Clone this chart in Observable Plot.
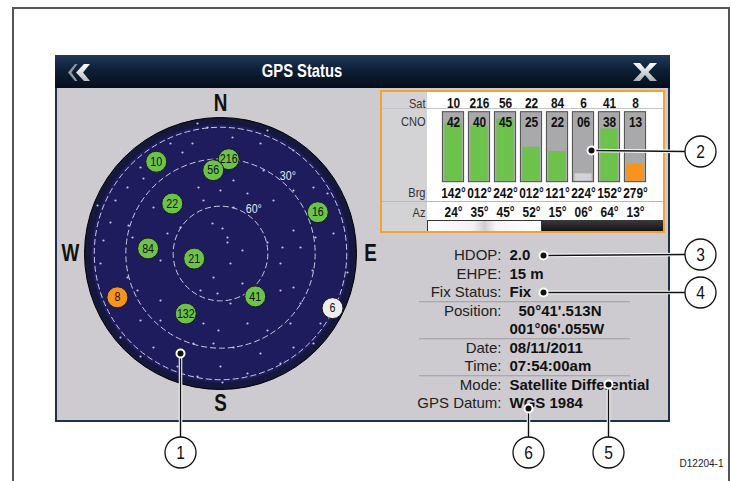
<!DOCTYPE html>
<html><head><meta charset="utf-8">
<script src="https://cdn.jsdelivr.net/npm/d3@7"></script>
<script src="https://cdn.jsdelivr.net/npm/@observablehq/plot@0.6"></script>
<style>
body{margin:0;background:#fff}
#root{position:relative;width:731px;height:481px;overflow:hidden;background:#fff;font-family:"Liberation Sans",Arial,sans-serif}
.abs{position:absolute}
.pw{position:absolute}
.pw svg{display:block;overflow:visible;background:transparent}
</style></head><body>
<div id="root">
  <div class="abs" style="left:12px;top:7px;width:714px;height:480px;border:2px solid #555;border-bottom:none"></div>
  <div class="abs" style="left:55px;top:55px;width:615px;height:33px;background:linear-gradient(to bottom,#22395a 0%,#0e1f36 45%,#050d1a 100%)"></div>
  <svg class="abs" style="left:66px;top:63px" width="28" height="20">
    <defs><linearGradient id="g1" x1="0" y1="0" x2="0" y2="1"><stop offset="0" stop-color="#ffffff"/><stop offset="1" stop-color="#b8bcc2"/></linearGradient></defs>
    <path d="M9,1 L2,9.5 L9,18 L11.5,18 L5.5,9.5 L11.5,1Z" fill="#8d97a4"/>
    <path d="M18,1 L10,9.5 L18,18 L24,18 L17,9.5 L24,1Z" fill="url(#g1)"/>
  </svg>
  <svg class="abs" style="left:633px;top:63px" width="24" height="18">
    <defs><linearGradient id="g2" x1="0" y1="0" x2="0" y2="1"><stop offset="0" stop-color="#ffffff"/><stop offset="1" stop-color="#a9adb3"/></linearGradient></defs>
    <path d="M0,0 H7 L12,6 L17,0 H24 L15.5,9 L24,18 H17 L12,12 L7,18 H0 L8.5,9Z" fill="url(#g2)"/>
  </svg>
  <div id="title" class="abs" style="left:200px;top:60px;width:204px;text-align:center;color:#fff;font-weight:bold;font-size:18px;line-height:22px;transform:scaleX(0.82);transform-origin:102px 0"></div>
  <div class="abs" style="left:55px;top:88px;width:611px;height:332px;background:#cdcbcf;border:2px solid #1c3050;border-top:none"></div>
  <div class="abs" style="left:381px;top:91px;width:46px;height:141px;background:#d3d2d5"></div>
  <div class="abs" style="left:427px;top:91px;width:236px;height:129px;background:#ffffff"></div>
  <div class="abs" style="left:381px;top:108px;width:282px;height:1px;background:#c4c4c4"></div>
  <div class="abs" style="left:381px;top:201px;width:282px;height:1px;background:#b8b8b8"></div>
  <div class="abs" style="left:427px;top:220px;width:113px;height:11px;background:linear-gradient(to right,#fff 0%,#f2f2f2 40%,#cfcfcf 50%,#f5f5f5 60%,#fff 100%);border:1px solid #333"></div>
  <div class="abs" style="left:542px;top:220px;width:121px;height:13px;background:linear-gradient(to bottom,#3a3a3a,#0d0d0d)"></div>
  <div id="sky" class="pw" style="left:50px;top:83px"></div>
  <div id="table" class="pw" style="left:381px;top:91px"></div>
  <div class="abs" style="left:380px;top:90px;width:281px;height:139px;border:2px solid #f4a332"></div>
  <div id="info" class="pw" style="left:380px;top:240px"></div>
  <div id="overlay" class="pw" style="left:0px;top:0px"></div>
</div>
<script>
// ---------- data ----------
const titleText = "GPS Status";
const NARROW = '"Liberation Sans Narrow","Liberation Sans",Arial,sans-serif';
const SQUEEZE = 0.82;

// sky plot satellites (azimuth °, elevation °, status)
const skyIds    = ["10","216","56","22","16","84","21","8","41","132","6"];
const skyAz     = [325, 5, 355, 316, 67, 274, 259, 247, 141, 210, 116];
const skyEl     = [19, 30, 37, 46, 23, 44, 73, 19, 55, 46, 11];
const skyStatus = ["fix","fix","fix","fix","fix","fix","fix","weak","fix","fix","none"];
const ringEl    = [10, 30, 60];
const ringLabels = ["30°", "60°"];
const ringLabelEl = [30, 60];
const ringLabelAz = [41, 37];
const compass   = ["N", "E", "S", "W"];
const compassAz = [0, 90, 180, 270];
// background stars (east, south offsets)
const stars = [[-23,-130],[-13,-126],[47,-123],[-50,-110],[-100,-103],[12,-116],[-38,-101],[-28,-110],[40,-110],[73,-103],[-80,-86],[13,-73],[-22,-66],[-77,-75],[43,-83],[73,-63],[93,-66],[-93,-66],[-105,-53],[27,-60],[0,-63],[-67,-46],[-17,-53],[13,-46],[53,-53],[107,-60],[-123,-48],[-110,-31],[-92,-28],[-88,-16],[-8,-30],[2,-25],[7,-16],[73,-23],[95,-16],[113,-20],[-117,-13],[-53,-20],[-40,-26],[7,-11],[22,-3],[47,-11],[62,-6],[80,-6],[127,19],[-120,10],[-93,24],[-60,7],[-7,24],[10,10],[22,30],[60,10],[92,17],[73,34],[-83,37],[-60,47],[-20,37],[-3,40],[10,50],[60,37],[80,50],[-80,67],[-60,67],[-17,70],[-2,77],[27,70],[47,77],[70,70],[100,70],[-100,84],[-67,94],[-27,90],[-7,90],[13,94],[40,100],[73,94],[93,90],[-80,103],[-43,113],[0,113],[27,120],[60,110],[-23,123],[2,129]];

// signal table
const tableSat    = ["10","216","56","22","84","6","41","8"];
const tableCno    = [42, 40, 45, 25, 22, 6, 38, 13];
const tableBrg    = [142, 12, 242, 12, 121, 224, 152, 279];
const tableAz     = [24, 35, 45, 52, 15, 6, 64, 13];
const tableStatus = ["fix","fix","fix","fix","fix","none","fix","weak"];
const rowLabels   = ["Sat", "CNO", "Brg", "Az"];

// info panel
const infoLabels = ["HDOP:", "EHPE:", "Fix Status:", "Position:", "", "Date:", "Time:", "Mode:", "GPS Datum:"];
const infoValues = ["2.0", "15 m", "Fix", "50°41'.513N", "001°06'.055W", "08/11/2011", "07:54:00am", "Satellite Differential", "WGS 1984"];

const callNums = ["1","2","3","4","5","6"];
const figureId = "D12204-1";

// ---------- styles / layout ----------
const statusColor = {fix: "#6cc24a", weak: "#f7941d", none: "#eeeeee"};
const barColor = {fix: "#6cc24a", weak: "#f7941d", none: "#d2d1d6"};
const PXDEG = 142 / 90;
const zen = el => (90 - el) * PXDEG;
const rad = a => a * Math.PI / 180;
const px = (az, r) => r * Math.sin(rad(az));
const py = (az, r) => -r * Math.cos(rad(az));
const TRANSP = {background: "transparent", overflow: "visible"};

// horizontally condense text drawn in the "narrow" family (no narrow face installed)
function condense(svg) {
  svg.querySelectorAll("g[font-family*='Narrow'] text").forEach(t => {
    const tr = t.getAttribute("transform") || "";
    t.setAttribute("transform", `${tr} scale(${SQUEEZE},1)`);
  });
  return svg;
}

document.getElementById("title").textContent = titleText;

// ---------- sky plot ----------
const sats = skyIds.map((id, i) => ({id, az: skyAz[i], el: skyEl[i], status: skyStatus[i]}));
const rlabs = ringLabels.map((t, i) => ({t, el: ringLabelEl[i], az: ringLabelAz[i]}));
const comp = compass.map((t, i) => ({t, az: compassAz[i]}));
const sky = Plot.plot({
  width: 340, height: 340, margin: 0, style: TRANSP,
  x: {domain: [-170, 170], range: [0, 340], axis: null},
  y: {domain: [-170, 170], range: [0, 340], axis: null},
  r: {type: "identity"},
  color: {type: "identity"},
  marks: [
    Plot.dot([0], {x: 0, y: 0, r: 136, fill: "#15173d", stroke: "#000", strokeWidth: 1}),
    Plot.dot([0], {x: 0, y: 0, r: 129, fill: "#1f1c5e"}),
    Plot.dot(stars, {x: d => d[0], y: d => d[1], r: 1.1, fill: "#d4d5ff", fillOpacity: 0.9}),
    Plot.dot(ringEl, {x: 0, y: 0, r: d => zen(d), fill: "none", stroke: "#c9cae4", strokeWidth: 1, strokeDasharray: "6,3"}),
    Plot.text(rlabs, {x: d => px(d.az, zen(d.el) + 8), y: d => py(d.az, zen(d.el) + 8), text: "t", fill: "#e4e4f2", fontSize: 13, fontFamily: NARROW}),
    Plot.dot(sats, {x: d => px(d.az, zen(d.el)), y: d => py(d.az, zen(d.el)), r: 10.5, fill: d => statusColor[d.status], stroke: "#1a1a1a", strokeWidth: 1}),
    Plot.text(sats, {x: d => px(d.az, zen(d.el)), y: d => py(d.az, zen(d.el)), text: "id", fill: "#111", fontSize: 13, fontFamily: NARROW}),
    Plot.text(comp, {x: d => px(d.az, 150), y: d => py(d.az, 150), text: "t", fill: "#111", fontSize: 23, fontWeight: "bold", fontFamily: NARROW})
  ]
});
document.getElementById("sky").append(condense(sky));

// ---------- signal table ----------
const rows = tableSat.map((sat, i) => ({
  sat, cno: tableCno[i], cnoLabel: String(tableCno[i]).padStart(2, "0"),
  brg: String(tableBrg[i]).padStart(3, "0") + "°", az: String(tableAz[i]).padStart(2, "0") + "°",
  status: tableStatus[i]
}));
const rowDy = {Sat: 12, CNO: 30.5, Brg: 101.5, Az: 121};
const tfont = {fontFamily: NARROW, fontWeight: "bold", fontSize: 14.5, fill: "#111", frameAnchor: "top", lineAnchor: "middle"};
const table = Plot.plot({
  width: 284, height: 142, margin: 0, style: TRANSP,
  x: {type: "band", domain: tableSat, range: [55.3, 270.2], padding: 0, axis: null},
  y: {domain: [0, 50], range: [90.7, 20.7], axis: null},
  color: {type: "identity"},
  marks: [
    Plot.barY(rows, {x: "sat", y1: 0, y2: 50, fill: "#a9a9ab", stroke: "#4b4b4b", strokeWidth: 1, insetLeft: 2.4, insetRight: 2.4}),
    Plot.barY(rows, {x: "sat", y: "cno", fill: d => barColor[d.status], insetLeft: 4.4, insetRight: 4.4, insetBottom: 1}),
    Plot.text(rows, {x: "sat", text: "sat", dy: rowDy.Sat, ...tfont}),
    Plot.text(rows, {x: "sat", text: "cnoLabel", dy: rowDy.CNO, ...tfont}),
    Plot.text(rows, {x: "sat", text: "brg", dy: rowDy.Brg, ...tfont}),
    Plot.text(rows, {x: "sat", text: "az", dy: rowDy.Az, ...tfont}),
    ...rowLabels.map(l => Plot.text([l], {frameAnchor: "top-left", lineAnchor: "middle", dx: 44, dy: rowDy[l], text: d => d, textAnchor: "end", fontFamily: NARROW, fontSize: 13.5, fill: "#333"}))
  ]
});
document.getElementById("table").append(condense(table));

// ---------- info panel ----------
const info = infoLabels.map((label, i) => ({i, label, value: infoValues[i]}));
const infoPlot = Plot.plot({
  width: 300, height: 180, margin: 0, style: {...TRANSP, fontFamily: '"Liberation Sans",Arial,sans-serif'},
  x: {domain: [380, 680], range: [0, 300], axis: null},
  y: {domain: [0, 8], range: [15, 163], axis: null},
  marks: [
    Plot.ruleY([2.5, 4.5, 6.5], {x1: 419, x2: 630, stroke: "#9c9c9e", strokeWidth: 1}),
    Plot.text(info, {x: 501, y: "i", text: "label", textAnchor: "end", fontSize: 15, fill: "#222"}),
    Plot.text(info, {x: d => d.i === 3 ? 518 : 509, y: "i", text: "value", textAnchor: "start", fontSize: 15, fontWeight: "bold", fill: "#111"})
  ]
});
document.getElementById("info").append(infoPlot);

// ---------- callouts overlay ----------
const anchors = [[180,353],[591,150],[543,255],[543,292],[608,384],[528,408]];
const bubbles = [[180,452],[700,151],[700,254],[700,292],[608,452],[528,452]];
const BR = 15.5;
const calls = callNums.map((n, i) => {
  const [ax, ay] = anchors[i], [cx, cy] = bubbles[i];
  const vertical = Math.abs(cx - ax) < 1;
  return {n, ax, ay, cx, cy, lx: vertical ? cx : cx - BR, ly: vertical ? cy - BR : cy};
});
const overlay = Plot.plot({
  width: 731, height: 481, margin: 0, style: {...TRANSP, fontFamily: '"Liberation Sans",Arial,sans-serif'},
  x: {domain: [0, 731], range: [0, 731], axis: null},
  y: {domain: [0, 481], range: [0, 481], axis: null},
  marks: [
    Plot.link(calls, {x1: "ax", y1: "ay", x2: "lx", y2: "ly", stroke: "#fff", strokeWidth: 3.5}),
    Plot.link(calls, {x1: "ax", y1: "ay", x2: "lx", y2: "ly", stroke: "#111", strokeWidth: 1.4}),
    Plot.dot(calls, {x: "ax", y: "ay", r: 4, fill: "#111", stroke: "#fff", strokeWidth: 2}),
    Plot.dot(calls, {x: "cx", y: "cy", r: BR, fill: "#fff", stroke: "#111", strokeWidth: 1.3}),
    Plot.text(calls, {x: "cx", y: "cy", text: "n", fontSize: 19, fontFamily: NARROW, fill: "#111"}),
    Plot.text([figureId], {x: 723, y: 463, text: d => d, textAnchor: "end", fontSize: 10, fill: "#222"})
  ]
});
document.getElementById("overlay").append(condense(overlay));
</script>
</body></html>
